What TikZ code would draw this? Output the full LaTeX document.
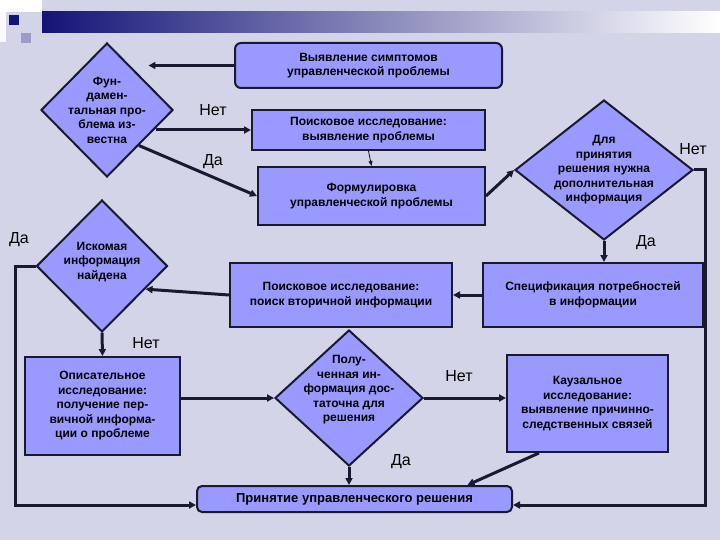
\documentclass[tikz,border=0pt]{standalone}
\usepackage{fontspec}
\setmainfont{Liberation Sans}
\usetikzlibrary{shapes.geometric,arrows.meta}
\definecolor{bg}{RGB}{212,212,232}
\definecolor{bx}{RGB}{153,153,255}
\definecolor{ln}{RGB}{25,25,50}
\definecolor{navy}{RGB}{20,20,120}
\begin{document}
\begin{tikzpicture}[x=1pt,y=-1pt,
  box/.style={draw=ln,fill=bx,line width=2pt,inner sep=0pt,align=center,font=\bfseries\fontsize{12}{14.5}\selectfont},
  dia/.style={draw=ln,fill=bx,line width=2pt,diamond,inner sep=0pt},
  dtext/.style={align=center,font=\bfseries\fontsize{12}{14.5}\selectfont},
  lab/.style={font=\fontsize{16}{18}\selectfont},
  arr/.style={draw=ln,line width=3pt,-{Triangle[length=7pt,width=7pt]}},
  thin/.style={draw=ln,line width=0.8pt,-{Triangle[length=5pt,width=4pt]}}]
\fill[bg] (0,0) rectangle (720,540);
\useasboundingbox (0,0) rectangle (720,540);
% header
\shade[left color=navy,right color=white] (42,12) rectangle (720,33);
\fill[white] (0,0) rectangle (42,12);
\fill[white!85!bg] (0,12) rectangle (6,42);
\fill[navy] (9,15) rectangle (19,25);
\fill[navy!30!bg] (21,33) rectangle (31,43);
% nodes
\node[box,rounded corners=6pt,minimum width=267,minimum height=45] (top) at (368.5,65.5) {Выявление симптомов\\управленческой проблемы};
\node[dia,minimum width=132,minimum height=134] (d1) at (107,110) {};
\node[dtext] at (107,110) {Фун-\\дамен-\\тальная про-\\блема из-\\вестна};
\node[box,minimum width=233,minimum height=40] (p1) at (368.5,130) {Поисковое исследование:\\выявление проблемы};
\node[box,minimum width=227,minimum height=58] (f) at (371.5,196) {Формулировка\\управленческой проблемы};
\node[dia,minimum width=178,minimum height=140] (d2) at (604,170) {};
\node[dtext] at (604,170) {Для\\принятия\\решения нужна\\дополнительная\\информация};
\node[dia,minimum width=131,minimum height=132] (d3) at (102,266) {};
\node[dtext] at (102,262) {Искомая\\информация\\найдена};
\node[box,minimum width=222,minimum height=64] (p2) at (341,295) {Поисковое исследование:\\поиск вторичной информации};
\node[box,minimum width=220,minimum height=64] (s) at (593,295) {Спецификация потребностей\\в информации};
\node[box,minimum width=155,minimum height=98] (o) at (102.5,406) {Описательное\\исследование:\\получение пер-\\вичной информа-\\ции о проблеме};
\node[dia,minimum width=148,minimum height=136] (d4) at (349,398) {};
\node[dtext] at (349,390) {Полу-\\ченная ин-\\формация дос-\\таточна для\\решения};
\node[box,minimum width=161,minimum height=97] (k) at (587.5,403.5) {Каузальное\\исследование:\\выявление причинно-\\следственных связей};
\node[box,rounded corners=5pt,minimum width=315,minimum height=26,font=\bfseries\fontsize{13}{15}\selectfont] (r) at (354.5,499) {Принятие управленческого решения};
% labels
\node[lab] (l1) at (213,110) {Нет};
\node[lab] (l2) at (213,162) {Да};
\node[lab] (l3) at (693,149) {Нет};
\node[lab] (l4) at (19,240) {Да};
\node[lab] (l5) at (646,243) {Да};
\node[lab] (l6) at (146,343) {Нет};
\node[lab] (l7) at (459,376) {Нет};
\node[lab] (l8) at (401,462) {Да};
% connectors
\draw[arr] (top.west) -- (top.west -| d1.32);
\draw[arr] (p1.west -| d1.-20) -- (p1.west);
\draw[arr] (d1.-48) -- (f.west);
\draw[thin] (p1.south) -- (f.north);
\draw[arr] (f.east) -- (d2.west);
\draw[arr] (d2.south) -- (d2.south |- s.north);
\coordinate (c1) at (705,170);
\coordinate (c2) at (705,505);
\draw[arr] (d2.east) -- (c1) -- (c2) -- (c2 -| r.east);
\draw[arr] (s.west) -- (p2.east);
\draw[arr] (p2.west) -- (d3.-28);
\coordinate (c3) at (15,266);
\coordinate (c4) at (15,505);
\draw[arr] (d3.west) -- (c3) -- (c4) -- (c4 -| r.west);
\draw[arr] (d3.south) -- (o.north);
\draw[arr] (d4.west -| o.east) -- (d4.west);
\draw[arr] (d4.east) -- (d4.east -| k.west);
\draw[arr] (d4.south) -- (r.north -| d4.south);
\draw[arr] ([xshift=33pt]k.south west) -- ([xshift=113pt]r.north);
\end{tikzpicture}
\end{document}
